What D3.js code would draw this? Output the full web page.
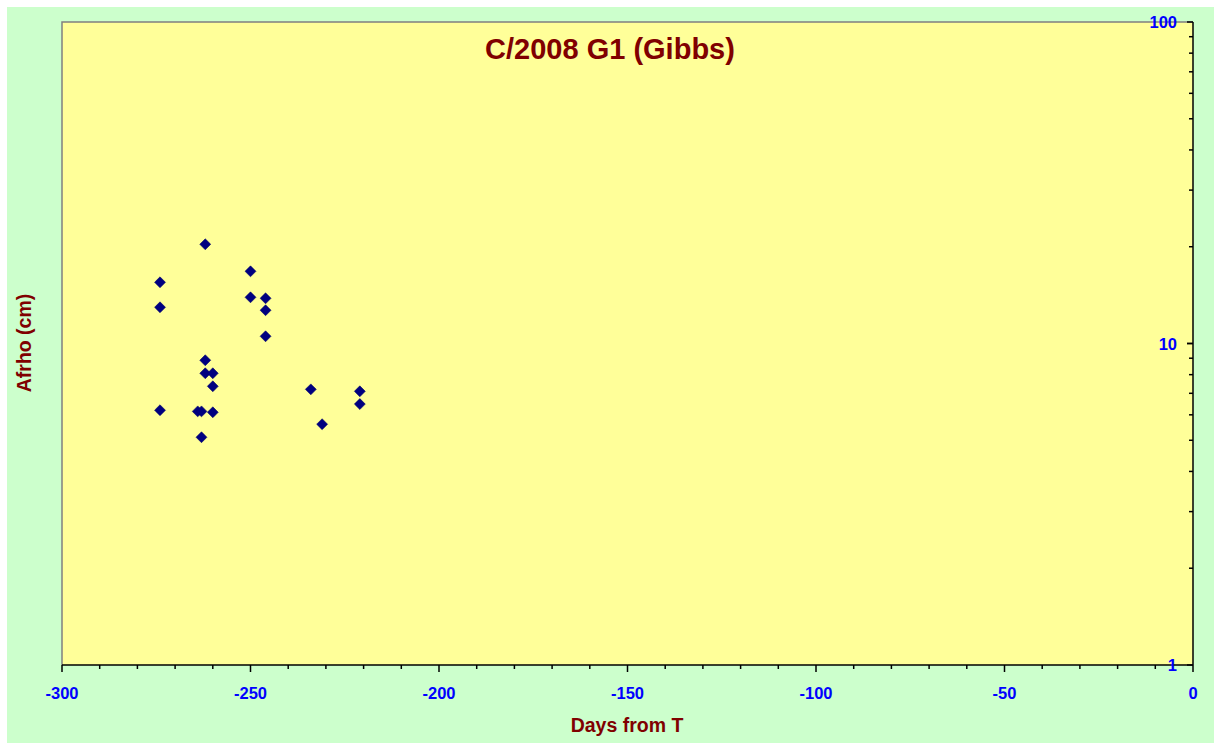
<!DOCTYPE html>
<html><head><meta charset="utf-8">
<script src="https://cdn.jsdelivr.net/npm/d3@7/dist/d3.min.js"></script>
<style>body{margin:0;background:#fff;}svg{display:block;font-family:Arial,"Liberation Sans",sans-serif;}</style>
</head><body>
<svg id="c" width="1221" height="750"></svg>
<script>
const days = [-262, -250, -274, -250, -246, -274, -246, -246, -262, -262, -260, -260, -234, -221, -221, -274, -264, -263, -260, -231, -263];
const afrho = [20.35, 16.77, 15.5, 13.92, 13.82, 12.96, 12.69, 10.53, 8.87, 8.08, 8.08, 7.36, 7.2, 7.1, 6.48, 6.2, 6.15, 6.15, 6.11, 5.61, 5.11];
const xTicks = [-300, -250, -200, -150, -100, -50, 0];
const yTicks = [1, 10, 100];
const title = "C/2008 G1 (Gibbs)";
const xTitle = "Days from T";
const yTitle = "Afrho (cm)";

const svg = d3.select("#c");
const L = 62, R = 1193, T = 22, B = 665;
svg.append("rect").attr("x",7).attr("y",7).attr("width",1207).attr("height",736).attr("fill","#CCFFCC");
svg.append("rect").attr("x",L).attr("y",T).attr("width",R-L).attr("height",B-T).attr("fill","#FFFF99");
svg.append("path").attr("d",`M${L},${B}V${T}H${R}`).attr("fill","none").attr("stroke","#808080").attr("stroke-width",1.5);

const x = d3.scaleLinear().domain([-300,0]).range([L,R]);
const y = d3.scaleLog().domain([1,100]).range([B,T]);

// x axis
const gx = svg.append("g");
gx.append("line").attr("x1",L).attr("x2",R).attr("y1",B).attr("y2",B).attr("stroke","#000").attr("stroke-width",1.5);
d3.range(-300,1,10).forEach(v=>{
  const major = v%50===0;
  gx.append("line").attr("x1",x(v)).attr("x2",x(v)).attr("y1",B).attr("y2",B+(major?7:4)).attr("stroke","#000").attr("stroke-width",1.5);
});
xTicks.forEach(v=>{
  gx.append("text").attr("x",x(v)).attr("y",699).attr("text-anchor","middle")
    .attr("font-size",16.5).attr("font-weight","bold").attr("fill","#0000FF").text(v);
});

// right y axis
const gy = svg.append("g");
gy.append("line").attr("x1",R).attr("x2",R).attr("y1",T).attr("y2",B).attr("stroke","#000").attr("stroke-width",1.5);
[1,10].forEach(dec=>{
  for(let k=1;k<=10;k++){
    const v=dec*k; const major=(k===1||k===10);
    gy.append("line").attr("x1",R).attr("x2",R-(major?6:4)).attr("y1",y(v)).attr("y2",y(v)).attr("stroke","#000").attr("stroke-width",1.5);
  }
});
yTicks.forEach(v=>{
  gy.append("text").attr("x",1177).attr("y",y(v)+6).attr("text-anchor","end")
    .attr("font-size",16.5).attr("font-weight","bold").attr("fill","#0000FF").text(v);
});

// points
svg.append("g").selectAll("path").data(days.map((d,i)=>[d,afrho[i]])).join("path")
  .attr("d",d3.symbol().type(d3.symbolSquare).size(60)())
  .attr("transform",d=>`translate(${x(d[0])},${y(d[1])}) rotate(45)`)
  .attr("fill","#000080").attr("stroke","#000066").attr("stroke-width",0.5);

svg.append("text").attr("x",610).attr("y",59).attr("text-anchor","middle").attr("font-size",29)
  .attr("font-weight","bold").attr("fill","#800000").text(title);
svg.append("text").attr("x",627).attr("y",732).attr("text-anchor","middle").attr("font-size",19.5)
  .attr("font-weight","bold").attr("fill","#800000").text(xTitle);
svg.append("text").attr("transform","translate(31,343) rotate(-90)").attr("text-anchor","middle").attr("font-size",19.5)
  .attr("font-weight","bold").attr("fill","#800000").text(yTitle);
</script>
</body></html>
